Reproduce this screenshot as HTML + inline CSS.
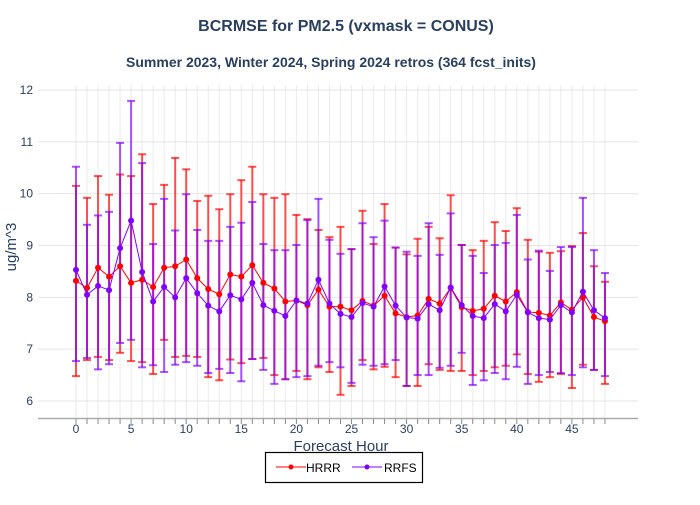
<!DOCTYPE html>
<html><head><meta charset="utf-8"><style>
body{margin:0;background:#fff;width:700px;height:500px;overflow:hidden}
svg{font-family:"Liberation Sans",sans-serif}
</style></head><body>
<svg id="s" width="700" height="500" xmlns="http://www.w3.org/2000/svg">
<text x="346" y="31" text-anchor="middle" font-size="16" font-weight="bold" fill="#2a3f5f">BCRMSE for PM2.5 (vxmask = CONUS)</text>
<text x="331" y="67" text-anchor="middle" font-size="14" font-weight="bold" fill="#2a3f5f">Summer 2023, Winter 2024, Spring 2024 retros (364 fcst_inits)</text>
<text transform="translate(16,247) rotate(-90)" text-anchor="middle" font-size="15" fill="#2a3f5f">ug/m^3</text>
<text x="341" y="451" text-anchor="middle" font-size="15" fill="#2a3f5f">Forecast Hour</text>
<g id="g"></g>
<rect x="265.5" y="452.5" width="157" height="30" fill="#fff" stroke="#000" stroke-width="1.2"/>
<line x1="276" y1="467" x2="306" y2="467" stroke="#ff0000" stroke-width="1"/><circle cx="291" cy="467" r="2.5" fill="#ff0000"/>
<text x="306" y="472" font-size="12" fill="#000">HRRR</text>
<line x1="352" y1="467" x2="382" y2="467" stroke="#8000ff" stroke-width="1"/><circle cx="367" cy="467" r="2.5" fill="#8000ff"/>
<text x="384" y="472" font-size="12" fill="#000">RRFS</text>
</svg>
<script>
const H=[8.32,8.18,8.57,8.40,8.60,8.28,8.34,8.20,8.57,8.60,8.73,8.37,8.16,8.06,8.44,8.40,8.62,8.28,8.17,7.92,7.94,7.85,8.15,7.82,7.82,7.75,7.93,7.84,8.03,7.69,7.62,7.65,7.97,7.88,8.18,7.81,7.74,7.78,8.03,7.92,8.10,7.72,7.70,7.65,7.90,7.76,8.00,7.62,7.54];
const R=[8.53,8.05,8.22,8.14,8.95,9.48,8.49,7.92,8.20,8.00,8.37,8.08,7.84,7.73,8.04,7.96,8.28,7.85,7.74,7.64,7.94,7.88,8.34,7.88,7.68,7.62,7.89,7.82,8.21,7.84,7.61,7.59,7.87,7.75,8.19,7.85,7.64,7.60,7.87,7.73,8.05,7.71,7.60,7.57,7.85,7.71,8.11,7.75,7.60];
const HU=[10.15,9.92,10.34,9.98,10.37,10.34,10.76,9.80,10.17,10.69,10.47,9.86,9.96,9.70,9.99,10.26,10.52,9.99,9.92,9.99,9.59,9.51,9.30,9.16,9.36,8.93,9.67,9.03,9.80,8.96,8.83,9.13,9.36,9.14,9.97,9.01,8.91,9.09,9.45,9.28,9.72,9.11,8.88,8.86,8.89,8.99,9.24,8.60,8.30];
const HL=[6.48,6.79,6.85,6.79,6.93,6.77,6.75,6.52,7.18,6.85,6.87,6.85,6.46,6.40,6.80,6.73,6.81,6.83,6.50,6.42,6.58,6.42,6.65,6.56,6.12,6.29,6.79,6.61,6.66,6.46,6.29,6.29,6.71,6.60,6.58,6.58,6.50,6.58,6.65,6.68,6.90,6.52,6.37,6.46,6.52,6.25,6.70,6.60,6.33];
const RU=[10.52,9.40,9.58,9.65,10.98,11.79,10.59,9.03,9.90,9.29,9.99,9.30,9.09,9.09,9.36,9.44,9.84,9.03,8.91,8.91,9.01,9.49,9.90,9.11,8.84,8.93,9.43,9.16,9.48,8.96,8.88,8.80,9.43,8.82,9.62,9.01,8.80,8.47,9.01,9.05,9.59,8.73,8.90,8.51,8.97,8.97,9.92,8.91,8.47];
const RL=[6.77,6.83,6.61,6.71,7.12,7.18,6.65,6.69,6.56,6.70,6.75,6.68,6.54,6.62,6.54,6.38,6.81,6.60,6.33,6.42,6.46,6.48,6.68,6.75,6.65,6.35,6.70,6.68,6.71,6.79,6.29,6.50,6.50,6.64,6.68,6.93,6.31,6.40,6.54,6.42,6.66,6.33,6.50,6.56,6.54,6.50,6.65,6.60,6.48];
const X=i=>76+11.02*i, Y=v=>401-(v-6)*51.83;
let s='';
for(let i=0;i<49;i++)s+=`<line x1="${X(i)}" y1="85" x2="${X(i)}" y2="418" stroke="#ebebeb" stroke-width="1"/>`;
for(let v=6;v<=12;v++){s+=`<line x1="38" y1="${Y(v)}" x2="638" y2="${Y(v)}" stroke="#e5e5e5" stroke-width="1"/><text x="33" y="${Y(v)+4}" text-anchor="end" font-size="12" fill="#2a3f5f">${v}</text>`;}
s+=`<line x1="38" y1="418.5" x2="638" y2="418.5" stroke="#aaa" stroke-width="1.5"/>`;
for(let i=0;i<49;i++)s+=`<line x1="${X(i)}" y1="419" x2="${X(i)}" y2="424" stroke="#888" stroke-width="1"/>`;
for(let i=0;i<=45;i+=5)s+=`<text x="${X(i)}" y="433" text-anchor="middle" font-size="12" fill="#2a3f5f">${i}</text>`;
function bars(U,L,c){let o='';for(let i=0;i<49;i++){const x=X(i);o+=`<g stroke="${c}" stroke-opacity="0.68" stroke-width="2"><line x1="${x}" y1="${Y(U[i])}" x2="${x}" y2="${Y(L[i])}"/><line x1="${x-4}" y1="${Y(U[i])}" x2="${x+4}" y2="${Y(U[i])}"/><line x1="${x-4}" y1="${Y(L[i])}" x2="${x+4}" y2="${Y(L[i])}"/></g>`;}return o;}
function series(M,c){let p=M.map((v,i)=>X(i)+','+Y(v)).join(' ');let o=`<polyline points="${p}" fill="none" stroke="${c}" stroke-width="1"/>`;M.forEach((v,i)=>o+=`<circle cx="${X(i)}" cy="${Y(v)}" r="3" fill="${c}"/>`);return o;}
s+=bars(HU,HL,'#ff0000')+bars(RU,RL,'#8000ff')+series(H,'#ff0000')+series(R,'#8000ff');
document.getElementById('g').innerHTML=s;
</script>
</body></html>
